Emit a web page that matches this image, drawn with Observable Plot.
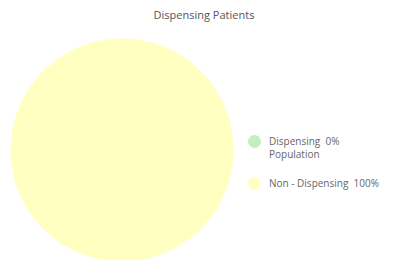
<!DOCTYPE html>
<html>
<head>
<meta charset="utf-8">
<script src="https://cdn.jsdelivr.net/npm/d3@7"></script>
<script src="https://cdn.jsdelivr.net/npm/@observablehq/plot@0.6"></script>
<style>
  html, body { margin: 0; padding: 0; background: #fff; overflow: hidden; }
  #wrap { position: relative; width: 408px; height: 260px; font-family: "Open Sans", "Noto Sans", sans-serif; }
  #title { position: absolute; left: 0; top: 7px; width: 408px; text-align: center; font-size: 11px; color: #555; }
  #chart { position: absolute; left: 0; top: 28px; }
  #legend { position: absolute; left: 248px; top: 135px; font-size: 10px; color: #666; }
  .item { display: flex; align-items: flex-start; margin-bottom: 16px; }
  .sw { width: 13px; height: 13px; border-radius: 50%; margin-right: 8px; flex: none; }
  .lbl { line-height: 13px; }
</style>
</head>
<body>
<div id="wrap">
  <div id="title"></div>
  <div id="chart"></div>
  <div id="legend"></div>
</div>
<script>
const title = "Dispensing Patients";
const categories = ["Dispensing Population", "Non - Dispensing"];
const values = [0, 100];
const legendFirst = ["Dispensing", "Non - Dispensing"];
const legendSecond = ["Population", ""];
const colors = ["#c2efc0", "#ffffc2"];

document.getElementById("title").textContent = title;

const total = d3.sum(values);
const pie = d3.pie().sort(null).value(d => d.value)(categories.map((c, i) => ({category: c, value: values[i]})));

// Build wedge outlines in data coordinates from the pie angles
const pts = [];
for (const s of pie) {
  const n = Math.max(2, Math.ceil((s.endAngle - s.startAngle) / (Math.PI / 180)));
  pts.push({category: s.data.category, x: 0, y: 0});
  for (let k = 0; k <= n; k++) {
    const a = s.startAngle + (s.endAngle - s.startAngle) * k / n;
    pts.push({category: s.data.category, x: Math.sin(a), y: Math.cos(a)});
  }
  pts.push({category: s.data.category, x: 0, y: 0});
}

const chart = Plot.plot({
  width: 408,
  height: 233,
  marginLeft: 10,
  marginRight: 175,
  marginTop: 10,
  marginBottom: 0,
  x: {domain: [-1, 1], axis: null},
  y: {domain: [-1, 1], axis: null},
  color: {domain: categories, range: colors},
  marks: [
    Plot.line(pts, {x: "x", y: "y", z: "category", fill: "category", stroke: "none", curve: "linear"})
  ]
});
document.getElementById("chart").appendChild(chart);

const legend = document.getElementById("legend");
categories.forEach((c, i) => {
  const pct = Math.round(values[i] / total * 100) + "%";
  const item = document.createElement("div");
  item.className = "item";
  const sw = document.createElement("div");
  sw.className = "sw";
  sw.style.background = colors[i];
  const lbl = document.createElement("div");
  lbl.className = "lbl";
  lbl.innerHTML = legendFirst[i] + "&nbsp;&nbsp;" + pct + (legendSecond[i] ? "<br>" + legendSecond[i] : "");
  item.appendChild(sw);
  item.appendChild(lbl);
  legend.appendChild(item);
});
</script>
</body>
</html>
